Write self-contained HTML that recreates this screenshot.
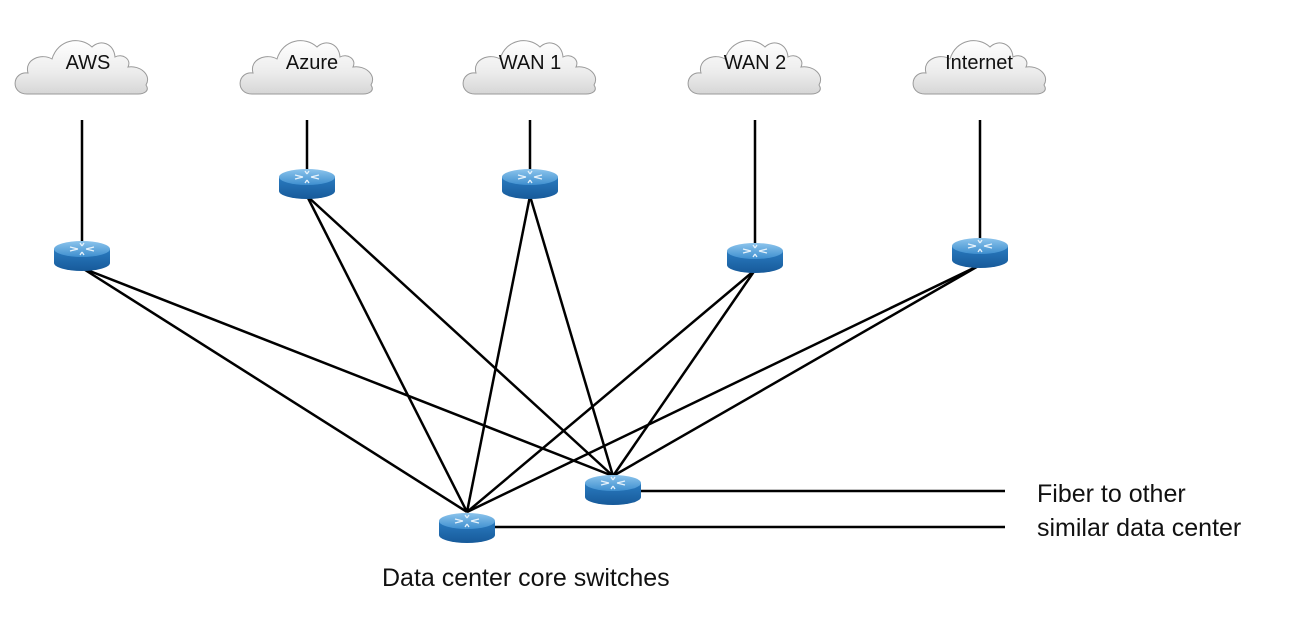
<!DOCTYPE html>
<html><head><meta charset="utf-8"><style>
html,body{margin:0;padding:0;background:#fff;}
svg{display:block;}
text{font-family:"Liberation Sans",sans-serif;}
</style></head><body>
<svg width="1290" height="630" viewBox="0 0 1290 630" xmlns="http://www.w3.org/2000/svg">
<defs>
<linearGradient id="cg" x1="0" y1="0" x2="0" y2="1">
<stop offset="0" stop-color="#ffffff"/><stop offset="0.6" stop-color="#ececec"/><stop offset="1" stop-color="#d6d6d6"/>
</linearGradient>
<linearGradient id="rs" x1="0" y1="0" x2="0" y2="1">
<stop offset="0" stop-color="#2a7bc0"/><stop offset="1" stop-color="#175a9a"/>
</linearGradient>
<linearGradient id="rt" x1="0" y1="0" x2="0" y2="1">
<stop offset="0" stop-color="#8cc4ec"/><stop offset="1" stop-color="#3f8fcf"/>
</linearGradient>
<g id="cloud">
<path d="M-55,31 C-72,31 -70,8 -54,10 C-58,-4 -40,-10 -30,-4 C-24,-24 -2,-27 10,-16 C18,-24 32,-20 33,-6 C40,-10 50,-4 46,4 C58,2 70,12 64,22 C68,28 62,31 56,31 Z" fill="url(#cg)" stroke="#9a9a9a" stroke-width="1"/>
</g>
<g id="router">
<path d="M-28,-6 L-28,8 A28,8 0 0 0 28,8 L28,-6 Z" fill="url(#rs)"/>
<ellipse cx="0" cy="-6" rx="28" ry="8" fill="url(#rt)"/>
<g stroke="#e6f2fb" stroke-width="1.3" fill="none">
<path d="M-12,-8 L-4,-6 M-12,-4 L-4,-6 M12,-8 L4,-6 M12,-4 L4,-6 M-2,-12 L0,-9 M2,-12 L0,-9 M-2,0 L0,-3 M2,0 L0,-3"/>
</g>
</g>
</defs>

<use href="#cloud" x="82" y="63"/>
<use href="#cloud" x="307" y="63"/>
<use href="#cloud" x="530" y="63"/>
<use href="#cloud" x="755" y="63"/>
<use href="#cloud" x="980" y="63"/>
<g font-size="20" fill="#111" text-anchor="middle">
<text x="88" y="69">AWS</text>
<text x="312" y="69">Azure</text>
<text x="530" y="69">WAN 1</text>
<text x="755" y="69">WAN 2</text>
<text x="979" y="69">Internet</text>
</g>

<g stroke="#000" stroke-width="2.5" fill="none">
<line x1="82" y1="120" x2="82" y2="245"/>
<line x1="307" y1="120" x2="307" y2="172"/>
<line x1="530" y1="120" x2="530" y2="172"/>
<line x1="755" y1="120" x2="755" y2="245"/>
<line x1="980" y1="120" x2="980" y2="240"/>

<line x1="82" y1="268" x2="467" y2="512"/>
<line x1="82" y1="268" x2="613" y2="476"/>
<line x1="307" y1="196" x2="467" y2="512"/>
<line x1="307" y1="196" x2="613" y2="476"/>
<line x1="530" y1="196" x2="467" y2="512"/>
<line x1="530" y1="196" x2="613" y2="476"/>
<line x1="755" y1="270" x2="467" y2="512"/>
<line x1="755" y1="270" x2="613" y2="476"/>
<line x1="980" y1="265" x2="467" y2="512"/>
<line x1="980" y1="265" x2="613" y2="476"/>

<line x1="613" y1="491" x2="1005" y2="491"/>
<line x1="467" y1="527" x2="1005" y2="527"/>
</g>

<use href="#router" x="82" y="255"/>
<use href="#router" x="307" y="183"/>
<use href="#router" x="530" y="183"/>
<use href="#router" x="755" y="257"/>
<use href="#router" x="980" y="252"/>
<use href="#router" x="613" y="489"/>
<use href="#router" x="467" y="527"/>

<g font-size="25" fill="#111">
<text x="1037" y="502">Fiber to other</text>
<text x="1037" y="536">similar data center</text>
<text x="382" y="586">Data center core switches</text>
</g>
</svg>
</body></html>
